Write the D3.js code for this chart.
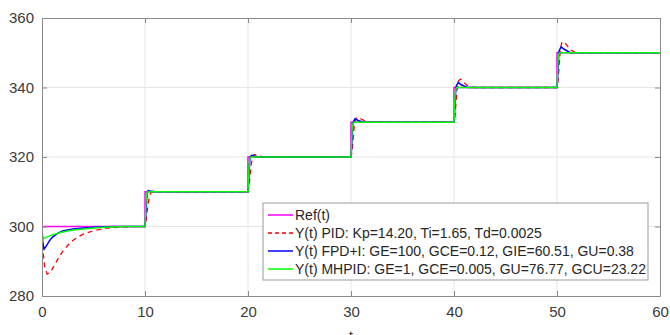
<!DOCTYPE html>
<html>
<head>
<meta charset="utf-8">
<script src="https://cdn.jsdelivr.net/npm/d3@7"></script>
<style>
  body { margin: 0; background: #fff; }
  svg { display: block; font-family: "Liberation Sans", Arial, sans-serif; }
</style>
</head>
<body>
<div id="chart"></div>
<script>
const xTicks = [0, 10, 20, 30, 40, 50, 60];
const yTicks = [280, 300, 320, 340, 360];

// [t, value] pairs
const refData = [[0,300],[10,300],[10,310],[20,310],[20,320],[30,320],[30,330],[40,330],[40,340],[50,340],[50,350],[60,350]];

const pidData = [[0,300],[0.1,293],[0.25,288.5],[0.5,286.3],[0.8,286.8],[1.2,288.8],[1.6,291],[2,292.8],[2.5,294.6],[3,296],[3.5,297],[4,297.8],[5,298.8],[6,299.4],[7,299.7],[8,299.9],[10,300],
  [10.1,301.5],[10.2,304],[10.3,306.5],[10.45,309],[10.6,309.8],[11,310],[20,310],
  [20.1,311.5],[20.2,314.5],[20.3,317.5],[20.45,320.3],[20.6,320.7],[20.9,320.5],[21.4,320.1],[22,320],[30,320],
  [30.1,321.5],[30.2,325],[30.3,328.5],[30.45,331],[30.65,331.5],[30.95,331],[31.4,330.3],[32,330],[40,330],
  [40.1,332],[40.2,336],[40.3,339.5],[40.45,342],[40.65,342.4],[40.95,341.5],[41.4,340.3],[42,340],[50,340],
  [50.1,342],[50.2,346],[50.3,350],[50.45,352.8],[50.65,353.3],[50.95,352.2],[51.3,350.8],[51.8,350.1],[52.5,350],[60,350]];

const fpdData = [[0,300],[0.05,296],[0.2,293.5],[0.4,294.3],[0.7,295.8],[1,296.9],[1.5,298],[2,298.7],[3,299.3],[4,299.6],[5,299.8],[7,300],[10,300],
  [10.05,302],[10.12,306],[10.2,309.5],[10.3,310.3],[10.5,310.2],[11,310],[20,310],
  [20.05,312],[20.12,316.5],[20.2,320],[20.35,320.5],[20.6,320.3],[21,320],[30,320],
  [30.05,322],[30.12,326.5],[30.2,330],[30.4,331],[30.7,330.5],[31.2,330],[40,330],
  [40.05,332],[40.12,337],[40.2,340.3],[40.4,341.4],[40.7,340.8],[41.3,340],[50,340],
  [50.05,342],[50.12,347],[50.2,350.5],[50.4,351.7],[50.7,351],[51.3,350],[60,350]];

const mhpidData = [[0,300],[0.05,297.5],[0.15,296.5],[0.5,297],[1,297.6],[2,298.4],[3,299],[4,299.3],[5,299.6],[6,299.8],[8,300],[10,300],
  [10.05,304],[10.12,308.5],[10.2,309.8],[10.3,310],[20,310],
  [20.05,314],[20.12,318.5],[20.2,319.8],[20.3,320],[30,320],
  [30.05,324],[30.12,328.5],[30.2,329.8],[30.3,330],[40,330],
  [40.05,334],[40.12,338.5],[40.2,339.8],[40.3,340],[50,340],
  [50.05,344],[50.12,348.5],[50.2,349.8],[50.3,350],[60,350]];

const seriesNames = ["Ref(t)", "Y(t) PID: Kp=14.20, Ti=1.65, Td=0.0025", "Y(t) FPD+I: GE=100, GCE=0.12, GIE=60.51, GU=0.38", "Y(t) MHPID: GE=1, GCE=0.005, GU=76.77, GCU=23.22"];

const W = 670, H = 335;
const margin = { top: 18, right: 10, bottom: 39, left: 42 },
  width = W - margin.left - margin.right,
  height = H - margin.top - margin.bottom;

const svg = d3.select("#chart").append("svg")
  .attr("width", W).attr("height", H)
  .append("g")
  .attr("transform", `translate(${margin.left},${margin.top})`);

const x = d3.scaleLinear().domain([0, 60]).range([0, width]);
const y = d3.scaleLinear().domain([280, 360]).range([height, 0]);

// grid
svg.append("g").selectAll("line").data(xTicks.slice(1, -1)).enter().append("line")
  .attr("x1", d => x(d)).attr("x2", d => x(d)).attr("y1", 0).attr("y2", height)
  .attr("stroke", "#e6e6e6").attr("stroke-width", 1);
svg.append("g").selectAll("line").data(yTicks.slice(1, -1)).enter().append("line")
  .attr("y1", d => y(d)).attr("y2", d => y(d)).attr("x1", 0).attr("x2", width)
  .attr("stroke", "#e6e6e6").attr("stroke-width", 1);

const line = d3.line().x(d => x(d[0])).y(d => y(d[1]));

const series = [
  { data: refData, color: "#ff00ff", dash: null, w: 1.5 },
  { data: pidData, color: "#ff0000", dash: "5,4", w: 1.3 },
  { data: fpdData, color: "#0000ff", dash: null, w: 1.5 },
  { data: mhpidData, color: "#00ff00", dash: null, w: 1.5 }
];

svg.append("defs").append("clipPath").attr("id", "clip")
  .append("rect").attr("width", width).attr("height", height);

const plot = svg.append("g").attr("clip-path", "url(#clip)");
series.forEach(s => {
  plot.append("path")
    .datum(s.data)
    .attr("fill", "none")
    .attr("stroke", s.color)
    .attr("stroke-width", s.w)
    .attr("stroke-dasharray", s.dash)
    .attr("d", line);
});

// axes (MATLAB style box with inward ticks)
const axColor = "#8a8a8a";
const xAxis = svg.append("g").attr("transform", `translate(0,${height})`)
  .call(d3.axisBottom(x).tickValues(xTicks).tickSizeInner(-5).tickSizeOuter(0).tickPadding(10));
const yAxis = svg.append("g")
  .call(d3.axisLeft(y).tickValues(yTicks).tickSizeInner(-5).tickSizeOuter(0).tickPadding(8));
svg.append("g").call(d3.axisTop(x).tickValues(xTicks).tickSizeInner(-5).tickSizeOuter(0).tickFormat(""));
svg.append("g").attr("transform", `translate(${width},0)`)
  .call(d3.axisRight(y).tickValues(yTicks).tickSizeInner(-5).tickSizeOuter(0).tickFormat(""));

svg.selectAll(".domain").attr("stroke", axColor);
svg.selectAll(".tick line").attr("stroke", axColor);
svg.selectAll(".tick text").attr("fill", "#3a3a3a").style("font-size", "15px")
  .style("font-family", "'Liberation Sans', Arial, sans-serif");

svg.append("text")
  .attr("x", x(30)).attr("y", height + 45)
  .attr("text-anchor", "middle")
  .attr("fill", "#3a3a3a")
  .style("font-size", "14px")
  .text("t");

// legend
const lg = svg.append("g").attr("transform", `translate(${263 - margin.left},${203 - margin.top})`);
lg.append("rect")
  .attr("width", 385).attr("height", 77)
  .attr("fill", "#fff").attr("stroke", "#9a9a9a").attr("stroke-width", 1);
series.forEach((s, i) => {
  const cy = 12 + i * 18;
  lg.append("line")
    .attr("x1", 5).attr("x2", 30).attr("y1", cy).attr("y2", cy)
    .attr("stroke", s.color).attr("stroke-width", s.w)
    .attr("stroke-dasharray", s.dash ? "4,3" : null);
  lg.append("text")
    .attr("x", 32).attr("y", cy + 5)
    .attr("fill", "#262626")
    .style("font-size", "14px")
    .text(seriesNames[i]);
});
</script>
</body>
</html>
